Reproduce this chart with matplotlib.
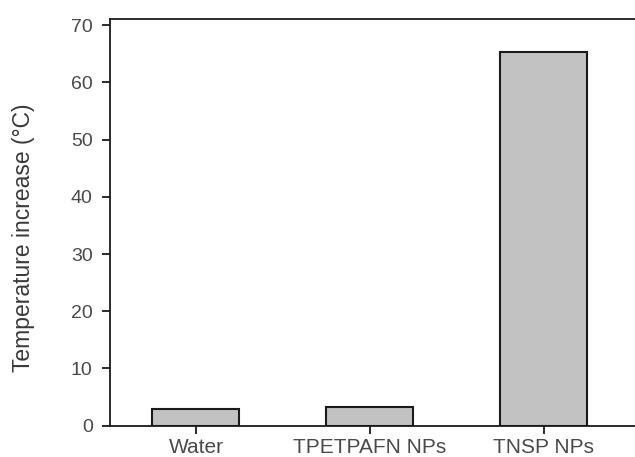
import matplotlib
matplotlib.use("Agg")
import matplotlib.pyplot as plt

categories = ["Water", "TPETPAFN NPs", "TNSP NPs"]
temp_increase = [2.9, 3.3, 65.4]
y_ticks = [0, 10, 20, 30, 40, 50, 60, 70]

plt.rcParams['font.family'] = ['Liberation Sans', 'DejaVu Sans']

fig = plt.figure(figsize=(6.35, 4.57), dpi=100)
ax_w = 1 - 110 / 635 + 0.01
ax = fig.add_axes([110 / 635, 1 - 425.7 / 457, ax_w, (425.7 - 19) / 457])

x = list(range(len(categories)))
ax.bar(x, temp_increase, width=0.5, color="#c2c2c2", edgecolor="#1a1a1a", linewidth=1.5, zorder=2)

ax.set_xlim(-0.494, 2.56)
ax.set_ylim(0, 71.1)
ax.set_yticks(y_ticks)
ax.set_xticks(x)
ax.set_xticklabels(categories)

ax.spines['right'].set_visible(False)
for s in ['left', 'bottom', 'top']:
    ax.spines[s].set_linewidth(1.3)
    ax.spines[s].set_color("#1a1a1a")

ax.tick_params(axis='both', direction='out', length=6, width=1.3, color="#1a1a1a",
               labelcolor="#4a4a4a")
ax.tick_params(axis='y', labelsize=14, pad=6.5)
ax.tick_params(axis='x', labelsize=15, pad=3)
ax.set_ylabel("Temperature increase (°C)", fontsize=16.5, color="#3a3a3a")
ax.yaxis.set_label_coords((35 - 110) / (ax_w * 635), (425.7 - 237.5) / 406.7)

fig.savefig("out.png", dpi=100)
